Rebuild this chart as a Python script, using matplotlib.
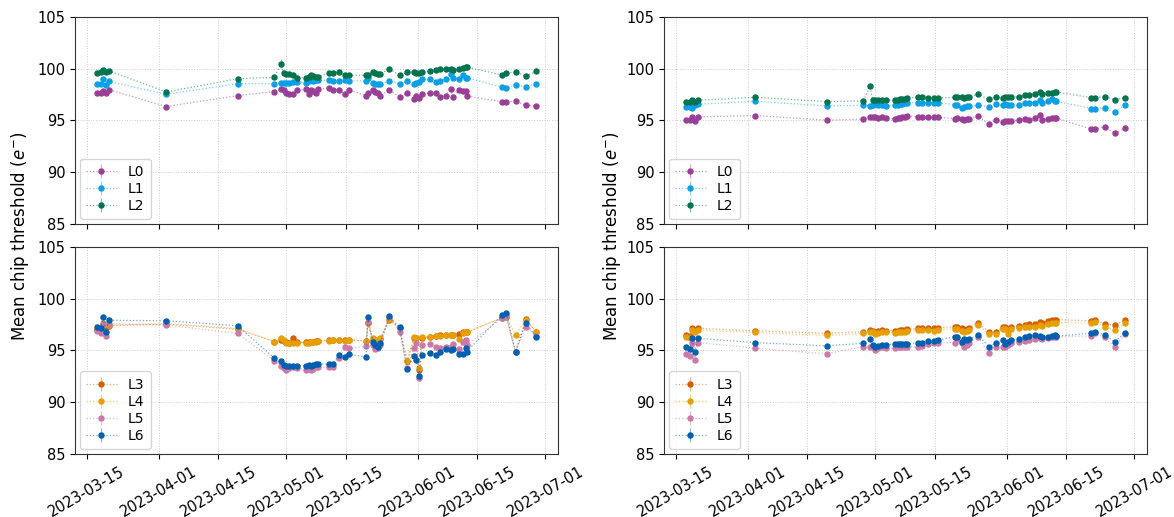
import matplotlib
matplotlib.use("Agg")
import matplotlib.pyplot as plt
import matplotlib.dates as mdates
import matplotlib.colors as mcolors
import numpy as np
import pandas as pd

dates = pd.to_datetime([
    '2023-03-17 09:00', '2023-03-18 07:00', '2023-03-18 20:00', '2023-03-19 12:00', '2023-03-20 03:00',
    '2023-04-02 17:00', '2023-04-19 13:00', '2023-04-28 04:00', '2023-04-29 18:00', '2023-04-30 09:00',
    '2023-04-30 22:00', '2023-05-01 17:00', '2023-05-02 12:00', '2023-05-03 11:00', '2023-05-05 16:00',
    '2023-05-06 07:00', '2023-05-06 20:00', '2023-05-07 09:00', '2023-05-08 00:00', '2023-05-08 13:00',
    '2023-05-11 04:00', '2023-05-12 02:00', '2023-05-13 08:00', '2023-05-14 22:00', '2023-05-15 21:00',
    '2023-05-19 19:00', '2023-05-20 05:00', '2023-05-21 09:00', '2023-05-21 22:00', '2023-05-22 13:00',
    '2023-05-23 02:00', '2023-05-25 07:00', '2023-05-27 16:00', '2023-05-29 11:00', '2023-05-31 01:00',
    '2023-05-31 14:00', '2023-06-01 05:00', '2023-06-01 22:00', '2023-06-03 18:00', '2023-06-05 07:00',
    '2023-06-06 02:00', '2023-06-07 12:00', '2023-06-08 17:00', '2023-06-09 06:00', '2023-06-10 19:00',
    '2023-06-11 14:00', '2023-06-12 05:00', '2023-06-12 12:00', '2023-06-20 22:00', '2023-06-21 19:00',
    '2023-06-24 00:00', '2023-06-26 09:00', '2023-06-28 21:00'])

# ---- left column ----
left_L0 = [97.69, 97.63, 97.85, 97.63, 97.98, 96.35, 97.40, 97.79, 98.01, 97.95, 97.69, 97.53, 97.53,
           97.92, 98.01, 97.53, 97.95, 97.85, 97.69, 98.01, 98.11, 97.95, 97.92, 97.60, 97.95, 97.40,
           97.69, 97.92, 97.79, 97.69, 97.40, 97.95, 97.28, 97.63, 97.05, 97.37, 97.21, 97.60, 97.63,
           97.63, 97.28, 97.37, 98.08, 97.28, 97.92, 97.85, 97.85, 97.37, 96.79, 96.79, 96.89, 96.47, 96.41]
left_L1 = [98.53, 98.53, 98.97, 98.40, 98.78, 97.53, 98.56, 98.56, 98.65, 98.65, 98.65, 98.65, 98.75,
           98.75, 98.65, 98.78, 98.88, 98.85, 98.88, 98.88, 98.91, 98.78, 98.81, 98.91, 98.85, 98.81,
           99.13, 98.65, 98.49, 98.49, 98.49, 98.81, 98.53, 98.81, 98.49, 98.65, 98.72, 98.97, 98.97,
           98.75, 98.81, 98.97, 99.46, 99.13, 98.97, 99.36, 99.13, 99.13, 98.21, 98.17, 98.40, 98.27, 98.56]
left_L2 = [99.55, 99.68, 99.84, 99.68, 99.81, 97.76, 99.04, 99.17, 100.5, 99.55, 99.45, 99.45, 99.42,
           99.13, 99.13, 99.23, 99.36, 99.29, 99.23, 99.23, 99.62, 99.55, 99.68, 99.42, 99.39, 99.36,
           99.42, 99.68, 99.62, 99.52, 99.52, 100.0, 99.36, 99.68, 99.68, 99.62, 99.62, 99.68, 99.74,
           99.84, 99.94, 99.94, 100.0, 99.84, 100.0, 100.1, 100.16, 100.16, 99.39, 99.55, 99.68, 99.29, 99.74]
left_L3 = [97.0, 97.0, 97.45, 97.3, 97.4, 97.55, 97.05, 95.86, 96.05, 95.95, 95.8, 95.7, 96.18, 95.8,
           95.8, 95.8, 95.86, 95.86, 95.9, 95.92, 96.0, 96.05, 96.05, 96.0, 96.02, 95.92, 97.61, 96.0,
           95.9, 95.95, 96.1, 97.9, 97.2, 93.95, 96.2, 96.2, 93.1, 96.25, 96.3, 96.4, 96.45, 96.5, 96.5,
           96.45, 96.6, 96.8, 96.8, 96.75, 98.15, 98.25, 94.81, 98.02, 96.75]
left_L4 = [97.07, 97.07, 97.68, 97.45, 97.45, 97.61, 97.13, 95.86, 96.18, 96.02, 95.70, 95.76, 95.76,
           95.76, 95.76, 95.76, 95.86, 95.86, 95.86, 95.92, 95.96, 96.02, 96.02, 95.96, 96.02, 95.92,
           97.61, 96.18, 96.02, 96.02, 96.18, 98.09, 97.13, 93.95, 96.27, 96.18, 93.31, 96.27, 96.34,
           96.40, 96.40, 96.50, 96.50, 96.50, 96.08, 96.72, 96.82, 96.82, 98.18, 98.31, 96.50, 97.93, 96.82]
left_L5 = [96.85, 96.7, 97.6, 96.4, 97.6, 97.45, 96.65, 94.01, 93.47, 93.31, 93.15, 93.31, 93.41,
           93.31, 93.15, 93.22, 93.15, 93.22, 93.41, 93.38, 93.38, 93.41, 94.3, 95.3, 95.2, 95.4, 97.77,
           95.54, 95.13, 95.22, 95.54, 98.25, 96.82, 93.31, 95.22, 95.70, 92.36, 95.54, 95.64, 95.32,
           95.22, 95.38, 95.38, 95.64, 95.13, 95.86, 96.02, 95.54, 98.18, 98.31, 94.81, 97.29, 96.40]
left_L6 = [97.29, 97.20, 98.25, 96.82, 97.93, 97.87, 97.39, 94.27, 94.01, 93.63, 93.47, 93.47, 93.54,
           93.54, 93.54, 93.63, 93.54, 93.63, 93.69, 93.69, 93.69, 93.69, 94.59, 94.33, 94.65, 94.36,
           98.25, 95.86, 95.54, 95.38, 95.70, 98.31, 97.23, 93.22, 94.43, 94.11, 92.58, 94.59, 94.75,
           94.59, 94.90, 95.13, 95.0, 95.13, 94.68, 94.65, 95.22, 94.90, 98.47, 98.63, 94.90, 97.68, 96.27]

# ---- right column ----
right_L0 = [95.06, 95.06, 95.35, 94.97, 95.35, 95.48, 95.03, 95.13, 95.29, 95.29, 95.29, 95.25, 95.35,
            95.22, 95.19, 95.22, 95.25, 95.29, 95.35, 95.45, 95.38, 95.35, 95.29, 95.29, 95.29, 95.19,
            95.22, 95.13, 95.06, 95.13, 95.19, 95.45, 94.65, 95.06, 94.87, 94.94, 94.94, 94.97, 95.0,
            95.19, 95.06, 95.26, 95.51, 95.03, 95.19, 95.26, 95.26, 95.26, 94.17, 94.17, 94.42, 93.78, 94.23]
right_L1 = [96.35, 96.35, 96.25, 96.47, 96.57, 96.86, 96.41, 96.47, 96.41, 96.54, 96.57, 96.50, 96.47,
            96.41, 96.47, 96.50, 96.57, 96.63, 96.67, 96.73, 96.73, 96.73, 96.67, 96.67, 96.67, 96.54,
            96.47, 96.25, 96.35, 96.38, 96.41, 96.47, 96.35, 96.57, 96.47, 96.57, 96.54, 96.47, 96.47,
            96.73, 96.67, 96.73, 96.96, 96.67, 96.86, 97.12, 96.86, 96.86, 96.15, 96.15, 96.22, 95.83, 96.51]
right_L2 = [96.83, 96.83, 96.96, 96.83, 96.96, 97.24, 96.83, 96.89, 98.30, 96.96, 96.96, 96.96, 96.96,
            96.96, 96.96, 97.02, 97.05, 97.08, 97.12, 97.15, 97.28, 97.28, 97.18, 97.18, 97.18, 97.24,
            97.24, 97.31, 97.18, 97.25, 97.31, 97.53, 97.05, 97.28, 97.18, 97.24, 97.24, 97.24, 97.31,
            97.47, 97.47, 97.60, 97.76, 97.53, 97.66, 97.69, 97.76, 97.76, 97.21, 97.21, 97.31, 97.02, 97.21]
right_L3 = [96.50, 96.40, 97.13, 96.97, 97.13, 96.91, 96.66, 96.82, 96.97, 96.91, 96.82, 96.88, 96.97,
            96.91, 96.91, 96.91, 96.94, 96.97, 96.97, 97.04, 97.13, 97.13, 97.13, 97.13, 97.20, 97.29,
            97.29, 97.13, 96.97, 97.10, 97.20, 97.68, 96.82, 96.82, 97.29, 97.29, 97.04, 97.29, 97.36,
            97.45, 97.52, 97.52, 97.71, 97.61, 97.87, 97.93, 97.99, 97.99, 97.87, 97.99, 97.55, 97.45, 97.93]
right_L4 = [96.30, 96.25, 96.95, 96.80, 96.95, 96.75, 96.45, 96.65, 96.80, 96.75, 96.60, 96.70, 96.80,
            96.75, 96.72, 96.75, 96.78, 96.80, 96.82, 96.88, 96.95, 96.95, 96.95, 96.92, 97.00, 97.10,
            97.10, 96.92, 96.80, 96.90, 97.00, 97.45, 96.60, 96.60, 97.10, 97.05, 96.60, 97.10, 97.15,
            97.25, 97.30, 97.30, 97.50, 97.35, 97.60, 97.65, 97.70, 97.70, 97.65, 97.75, 97.30, 96.97, 97.61]
right_L5 = [94.68, 94.49, 95.70, 94.11, 95.76, 95.22, 94.68, 95.38, 95.32, 95.32, 95.0, 95.22, 95.29,
            95.22, 95.22, 95.29, 95.32, 95.32, 95.32, 95.38, 95.32, 95.45, 95.64, 95.70, 95.76, 95.76,
            96.08, 95.70, 95.38, 95.54, 95.76, 96.27, 94.75, 95.32, 95.32, 95.32, 95.54, 95.70, 95.86,
            95.96, 96.02, 96.08, 96.18, 96.08, 96.18, 96.27, 96.34, 96.34, 96.40, 96.66, 96.27, 95.32, 96.59]
right_L6 = [95.29, 95.16, 96.18, 94.81, 96.18, 95.76, 95.45, 95.70, 96.08, 95.54, 95.38, 95.48, 95.54,
            95.54, 95.64, 95.64, 95.61, 95.61, 95.64, 95.64, 95.76, 95.76, 95.92, 95.92, 96.02, 96.34,
            96.27, 95.86, 96.08, 96.02, 96.08, 96.50, 95.38, 95.70, 96.02, 95.64, 95.86, 96.02, 96.08,
            96.27, 96.40, 96.50, 96.40, 96.27, 96.34, 96.40, 96.50, 96.40, 96.66, 96.82, 96.50, 95.86, 96.72]

colors = {'L0': '#9a3f97', 'L1': '#0a9fe6', 'L2': '#00734f',
          'L3': '#d55e00', 'L4': '#e69f00', 'L5': '#cc79a7', 'L6': '#005fb0'}
err_default = 0.08
spike_err = 0.45  # visible error bar on the L2 spike (left column)

data = {
    (0, 0): {'L0': left_L0, 'L1': left_L1, 'L2': left_L2},
    (1, 0): {'L3': left_L3, 'L4': left_L4, 'L5': left_L5, 'L6': left_L6},
    (0, 1): {'L0': right_L0, 'L1': right_L1, 'L2': right_L2},
    (1, 1): {'L3': right_L3, 'L4': right_L4, 'L5': right_L5, 'L6': right_L6},
}

W, H = 1174, 517
fig = plt.figure(figsize=(W / 100, H / 100), dpi=100)
lefts = [75 / W, 664 / W]
bottoms = [1 - 224 / H, 1 - 454 / H]
aw, ah = 483 / W, 207 / H

axes = {}
for col in range(2):
    top = fig.add_axes([lefts[col], bottoms[0], aw, ah])
    bot = fig.add_axes([lefts[col], bottoms[1], aw, ah], sharex=top)
    axes[(0, col)] = top
    axes[(1, col)] = bot

for (row, col), series in data.items():
    ax = axes[(row, col)]
    for name, vals in series.items():
        c = colors[name]
        rgb = mcolors.to_rgb(c)
        yerr = np.full(len(vals), err_default)
        if name == 'L2' and col == 0:
            yerr[8] = spike_err
        ax.errorbar(dates, vals, yerr=yerr, fmt='o', linestyle=':', linewidth=0.9,
                    color=(*rgb, 0.55), markerfacecolor=c, markeredgecolor=c,
                    markersize=3.6, ecolor=(*rgb, 0.45), elinewidth=0.9, label=name)
    ax.set_ylim(85, 105)
    ax.set_yticks([85, 90, 95, 100, 105])
    ax.grid(True, linestyle=':', color='#cccccc', linewidth=0.7)
    ax.tick_params(axis='y', labelsize=10.5)
    ax.tick_params(axis='x', labelsize=10.5)
    ax.legend(loc='lower left', fontsize=10, handlelength=2.2, borderpad=0.45,
              labelspacing=0.22, borderaxespad=0.35)
    for s in ax.spines.values():
        s.set_color('#333333')
    ax.xaxis.set_major_locator(mdates.DayLocator(bymonthday=[1, 15]))
    ax.xaxis.set_major_formatter(mdates.DateFormatter('%Y-%m-%d'))
    if row == 0:
        ax.tick_params(axis='x', labelbottom=False)
    else:
        ax.tick_params(axis='x', labelrotation=30)

for col in range(2):
    axes[(0, col)].set_xlim(pd.Timestamp('2023-03-12 05:00'), pd.Timestamp('2023-07-04 00:00'))

fig.canvas.draw()
for col in range(2):
    for lab in axes[(1, col)].get_xticklabels():
        lab.set_ha('center')
        lab.set_rotation_mode('default')

fig.text(20 / W, 1 - 236 / H, 'Mean chip threshold ($e^{-}$)', rotation=90, va='center', ha='center', fontsize=12)
fig.text(612 / W, 1 - 236 / H, 'Mean chip threshold ($e^{-}$)', rotation=90, va='center', ha='center', fontsize=12)

fig.savefig('out.png', dpi=100)
